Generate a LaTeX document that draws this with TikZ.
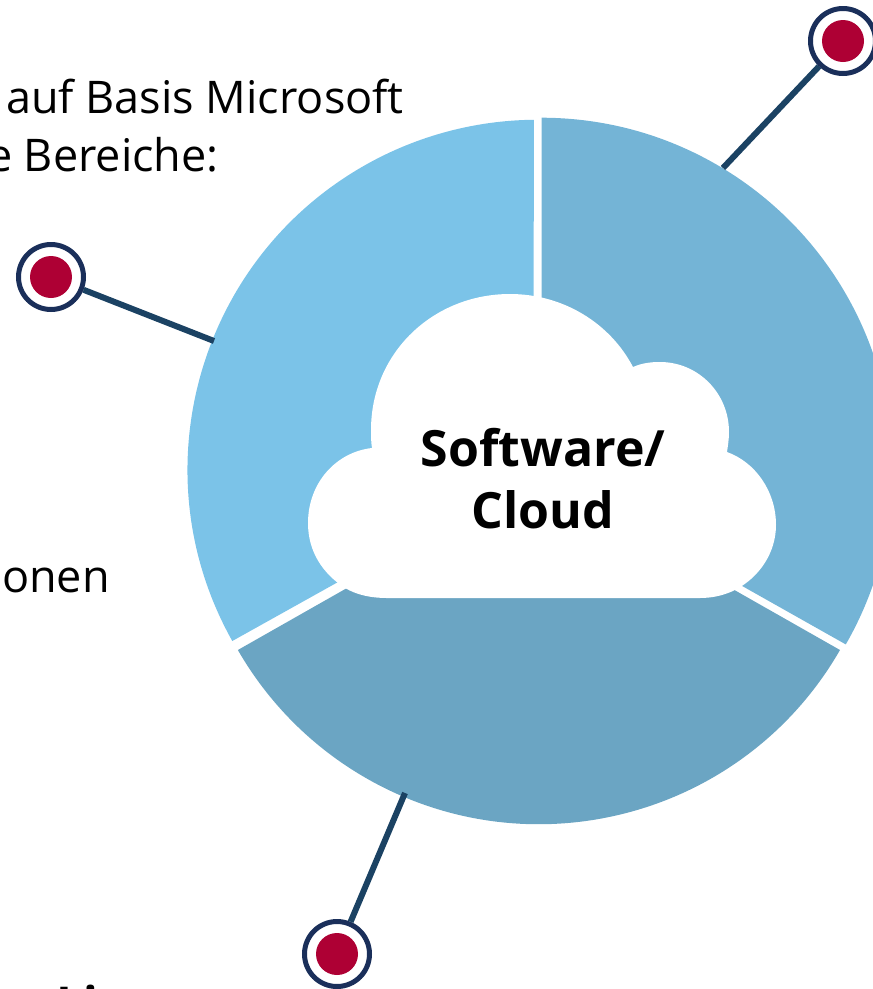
\documentclass[tikz,border=0pt]{standalone}
\usepackage{fontspec}
\setmainfont{Open Sans}
\definecolor{segLeft}{HTML}{7BC3E8}
\definecolor{segRight}{HTML}{74B4D6}
\definecolor{segBottom}{HTML}{6BA5C3}
\definecolor{ringBlue}{HTML}{1A2F5A}
\definecolor{lineBlue}{HTML}{1B4263}
\definecolor{dotRed}{HTML}{AE0034}
\tikzset{
	pinring/.style={circle, draw=ringBlue, line width=5pt, fill=white, inner sep=0pt, minimum size=65pt},
	pindot/.style={circle, fill=dotRed, inner sep=0pt, minimum size=42pt},
	pinline/.style={draw=lineBlue, line width=6pt},
	bodytext/.style={anchor=base east, inner sep=0pt, font=\fontsize{45}{54}\selectfont},
	cloudtext/.style={align=center, inner sep=0pt, font=\fontsize{50}{62}\selectfont\bfseries}
}
\begin{document}
\begin{tikzpicture}[x=1pt, y=-1pt]
	\useasboundingbox (0,0) rectangle (873,989);
	\clip (0,0) rectangle (873,989);
	% ring segments
	\fill[segRight] (541.7,473) -- (541.7,117.7) arc[start angle=-89.9, end angle=29.9, radius=351.5] -- cycle;
	\fill[segBottom] (539,479) -- (840,650) arc[start angle=29.9, end angle=150.1, radius=347.3] -- cycle;
	\fill[segLeft] (533.5,473) -- (232.3,641) arc[start angle=150.7, end angle=269.4, radius=350] -- cycle;
	% cloud
	\fill[white] (345,588)
		.. controls (322,573) and (308,551) .. (308,523)
		.. controls (308,483) and (336,452) .. (372,448)
		.. controls (371,442) and (371,436) .. (371,430)
		.. controls (371,353) and (433,294) .. (510,294)
		.. controls (563,294) and (610,323) .. (633,367)
		.. controls (642,363) and (651,362) .. (660,362)
		.. controls (698,362) and (729,393) .. (729,432)
		.. controls (729,439) and (728,445) .. (727,452)
		.. controls (755,462) and (776,491) .. (776,525)
		.. controls (776,552) and (760,577) .. (735,590)
		.. controls (725,595) and (713,598) .. (700,598)
		-- (387,598)
		.. controls (371,598) and (357,595) .. (345,588) -- cycle;
	\node[cloudtext] (cloudlabel) at (543,479) {Software/\\Cloud};
	% pins
	\node[pinring] (pinTop) at (843,41) {};
	\node[pindot] (dotTop) at (pinTop) {};
	\node[pinring] (pinLeft) at (51,277) {};
	\node[pindot] (dotLeft) at (pinLeft) {};
	\node[pinring] (pinBottom) at (337,954) {};
	\node[pindot] (dotBottom) at (pinBottom) {};
	\coordinate (rimTop) at (723,168);
	\coordinate (rimLeft) at (214,341);
	\coordinate (rimBottom) at (405,793);
	\draw[pinline] (rimTop) -- (pinTop);
	\draw[pinline] (rimLeft) -- (pinLeft);
	\draw[pinline] (rimBottom) -- (pinBottom);
	% text cut off by the left edge
	\node[bodytext] (introOne) at (404,113) {auf Basis Microsoft};
	\node[bodytext] (introTwo) at (219,171) {e Bereiche:};
	\node[bodytext] (introThree) at (110,592) {onen};
	\node[anchor=base west, inner sep=0pt, font=\fontsize{48}{60}\selectfont\bfseries] (headline) at (56,1021) {Li};
\end{tikzpicture}
\end{document}
